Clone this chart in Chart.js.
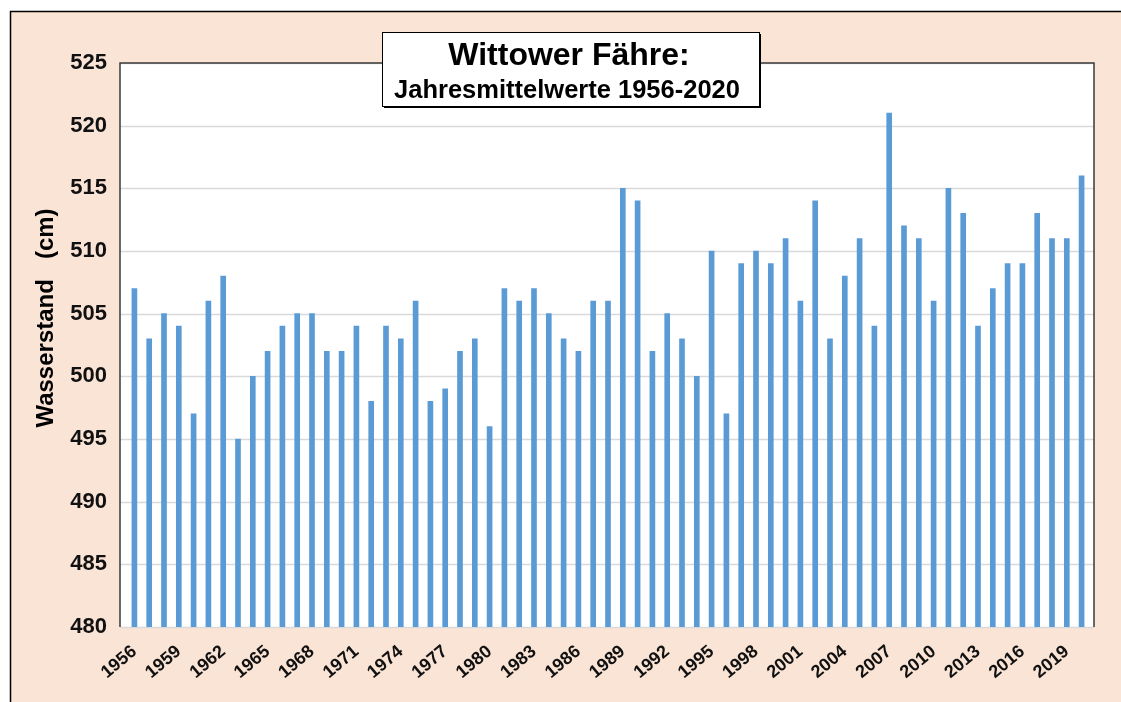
<!DOCTYPE html>
<html>
<head>
<meta charset="utf-8">
<script src="https://cdn.jsdelivr.net/npm/chart.js@4/dist/chart.umd.min.js"></script>
<style>
  html, body { margin: 0; padding: 0; background: #fff; }
  #wrap { width: 1121px; height: 702px; position: relative; }
</style>
</head>
<body>
<div id="wrap"><canvas id="myChart" width="1121" height="702"></canvas></div>
<script>
const years = [];
for (let y = 1956; y <= 2020; y++) years.push(String(y));

const waterLevels = [
  507, 503, 505, 504, 497, 506, 508, 495, 500, 502,
  504, 505, 505, 502, 502, 504, 498, 504, 503, 506,
  498, 499, 502, 503, 496, 507, 506, 507, 505, 503,
  502, 506, 506, 515, 514, 502, 505, 503, 500, 510,
  497, 509, 510, 509, 511, 506, 514, 503, 508, 511,
  504, 521, 512, 511, 506, 515, 513, 504, 507, 509,
  509, 513, 511, 511, 516
];

const yTicks = [480, 485, 490, 495, 500, 505, 510, 515, 520, 525];

const FONT = '"Liberation Sans", Arial, sans-serif';
// plot frame is a bit wider than the category area (Excel style)
const plotLeft = 120, plotRight = 1094;

const frame = {
  id: 'frame',
  beforeDraw(chart) {
    const { ctx, chartArea: a, scales } = chart;
    ctx.save();
    ctx.fillStyle = '#ffffff';
    ctx.fillRect(0, 0, chart.width, chart.height);
    ctx.fillStyle = '#fae4d6';
    ctx.fillRect(10, 11, chart.width, chart.height);
    ctx.strokeStyle = '#000';
    ctx.lineWidth = 1.5;
    ctx.strokeRect(10.5, 11.5, chart.width + 10, chart.height + 10);
    ctx.fillStyle = '#ffffff';
    ctx.fillRect(plotLeft, a.top, plotRight - plotLeft, a.bottom - a.top);

    // horizontal gridlines across the whole plot frame
    ctx.strokeStyle = '#d9d9d9';
    ctx.lineWidth = 1.5;
    yTicks.forEach(v => {
      const y = Math.round(scales.y.getPixelForValue(v)) + 0.5;
      ctx.beginPath();
      ctx.moveTo(plotLeft, y);
      ctx.lineTo(plotRight, y);
      ctx.stroke();
    });

    // axis title
    ctx.fillStyle = '#000';
    ctx.font = 'bold 24px ' + FONT;
    ctx.textAlign = 'center';
    ctx.textBaseline = 'middle';
    ctx.translate(46, 318);
    ctx.rotate(-Math.PI / 2);
    ctx.fillText('Wasserstand   (cm)', 0, 0);
    ctx.restore();
  },
  afterDraw(chart) {
    const { ctx, chartArea: a } = chart;
    ctx.save();
    ctx.strokeStyle = '#3a3a3a';
    ctx.lineWidth = 1.5;
    ctx.beginPath();
    ctx.moveTo(plotLeft, a.bottom);
    ctx.lineTo(plotLeft, a.top);
    ctx.lineTo(plotRight, a.top);
    ctx.lineTo(plotRight, a.bottom);
    ctx.stroke();

    // title box
    const bx = 382, by = 32, bw = 377, bh = 74;
    ctx.fillStyle = '#000';
    ctx.fillRect(bx + 2, by + 2, bw, bh);
    ctx.fillStyle = '#fff';
    ctx.fillRect(bx, by, bw, bh);
    ctx.strokeStyle = '#000';
    ctx.lineWidth = 1;
    ctx.strokeRect(bx + 0.5, by + 0.5, bw, bh);
    ctx.fillStyle = '#000';
    ctx.textAlign = 'center';
    ctx.textBaseline = 'alphabetic';
    ctx.font = 'bold 32px ' + FONT;
    ctx.fillText('Wittower Fähre:', 569, 65);
    ctx.font = 'bold 25.5px ' + FONT;
    ctx.fillText('Jahresmittelwerte 1956-2020', 567, 98);
    ctx.restore();
  }
};

const ctx = document.getElementById('myChart').getContext('2d');
new Chart(ctx, {
  type: 'bar',
  data: {
    labels: years,
    datasets: [{
      data: waterLevels,
      backgroundColor: '#5b9bd5',
      borderWidth: 0,
      barThickness: 5,
    }],
  },
  options: {
    responsive: false,
    animation: false,
    layout: { padding: { left: 0, top: 63, right: 32, bottom: 0 } },
    plugins: {
      legend: { display: false },
      tooltip: { enabled: false },
    },
    scales: {
      x: {
        grid: { display: false, drawTicks: false },
        border: { display: false },
        afterFit(scale) { scale.height = 75; },
        ticks: {
          autoSkip: false,
          maxRotation: 40,
          minRotation: 40,
          padding: 14,
          color: '#111',
          font: { family: FONT, size: 18, weight: 'bold' },
          callback(value, index) {
            return index % 3 === 0 ? years[index] : '';
          },
        },
      },
      y: {
        min: 480,
        max: 525,
        afterBuildTicks(scale) {
          scale.ticks = yTicks.map(v => ({ value: v }));
        },
        afterFit(scale) { scale.width = 127; },
        grid: { display: false, drawTicks: false },
        border: { display: false },
        ticks: {
          padding: 20,
          color: '#111',
          font: { family: FONT, size: 22, weight: 'bold' },
        },
      },
    },
  },
  plugins: [frame],
});
</script>
</body>
</html>
